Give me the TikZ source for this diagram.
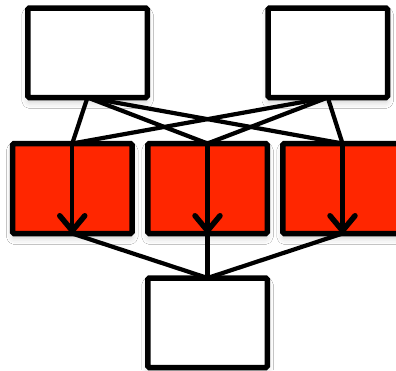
\documentclass[tikz,border=0pt]{standalone}
\usetikzlibrary{arrows.meta,shadows.blur}
\definecolor{boxred}{HTML}{FF2600}
\tikzset{
  box/.style={draw=black, line width=5.5pt, rounded corners=1.5pt, inner sep=0pt, outer sep=0pt,
    minimum width=119.5pt, minimum height=89.5pt,
    blur shadow={shadow xshift=0pt, shadow yshift=-5pt, shadow blur radius=6pt, shadow opacity=18}},
  whitebox/.style={box, fill=white},
  redbox/.style={box, fill=boxred},
  link/.style={draw=black, line width=4.2pt, line cap=round},
  downarrow/.style={link, -{Straight Barb[length=15pt,width=25pt,line width=5.5pt,round]}},
}
\begin{document}
\begin{tikzpicture}[x=1pt,y=-1pt]
\clip (0,0) rectangle (396,370);
\fill[white] (0,0) rectangle (396,370);
% top boxes
\node[whitebox] (tl) at (87.5,52.75) {};
\node[whitebox] (tr) at (327.75,52.75) {};
% bottom box
\node[whitebox] (bt) at (207.5,322.75) {};
% red boxes
\node[redbox, minimum height=90pt] (r1) at (72.25,188.5) {};
\node[redbox, minimum height=90pt] (r2) at (207.5,188.5) {};
\node[redbox, minimum height=90pt] (r3) at (342.5,188.5) {};
% crossing links
\foreach \s in {tl,tr}{
  \foreach \t in {r1,r2,r3}{
    \draw[link] (\s.south) -- (\t.north);
  }
}
% arrows through red boxes
\foreach \t in {r1,r2,r3}{
  \draw[downarrow] (\t.north) -- (\t.south);
}
% links to bottom box
\foreach \t in {r1,r2,r3}{
  \draw[link] (\t.south) -- (bt.north);
}
\end{tikzpicture}
\end{document}
